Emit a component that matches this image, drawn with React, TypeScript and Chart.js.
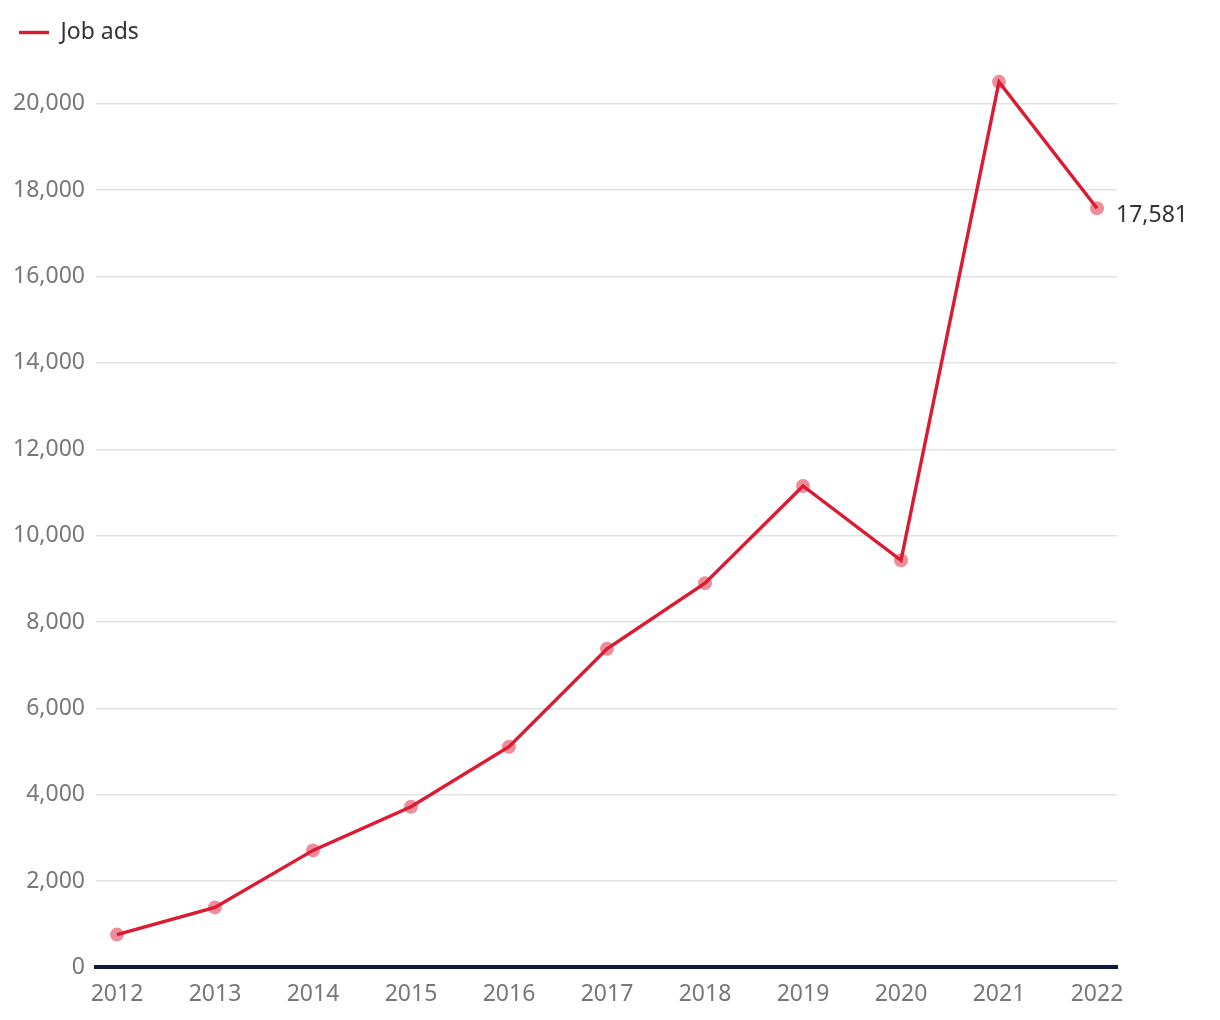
import React, { useEffect, useRef } from "react";
import { Chart, registerables } from "chart.js";

Chart.register(...registerables);

const years = [2012, 2013, 2014, 2015, 2016, 2017, 2018, 2019, 2020, 2021, 2022];
const jobAds = [760, 1390, 2710, 3720, 5110, 7380, 8900, 11150, 9430, 20510, 17581];
const yTicks = [0, 2000, 4000, 6000, 8000, 10000, 12000, 14000, 16000, 18000, 20000];
const seriesLabel = "Job ads";

const FONT = "'Noto Sans', sans-serif";

const lastLabelPlugin = {
  id: "lastLabel",
  afterDatasetsDraw(chart: any) {
    const meta = chart.getDatasetMeta(1);
    const pts = meta.data;
    if (!pts || !pts.length) return;
    const p = pts[pts.length - 1];
    const ctx = chart.ctx;
    ctx.save();
    ctx.font = `23px ${FONT}`;
    ctx.fillStyle = "#333333";
    ctx.textAlign = "left";
    ctx.textBaseline = "middle";
    const v = jobAds[jobAds.length - 1];
    ctx.fillText(v.toLocaleString("en-US"), p.x + 19, p.y + 7);
    ctx.restore();
  },
};

export default function App() {
  const ref = useRef<HTMLCanvasElement | null>(null);
  useEffect(() => {
    if (!ref.current) return;
    const pts = years.map((y, i) => ({ x: y, y: jobAds[i] }));
    const chart = new Chart(ref.current, {
      type: "line",
      data: {
        datasets: [
          {
            label: seriesLabel,
            data: pts,
            borderColor: "#dc1a32",
            backgroundColor: "#dc1a32",
            borderWidth: 3.4,
            pointRadius: 0,
            tension: 0,
            order: 0,
          },
          {
            label: "points",
            data: pts,
            showLine: false,
            pointRadius: 7,
            pointBorderWidth: 0,
            pointBackgroundColor: "#ef8d9b",
            borderColor: "#ef8d9b",
            order: 1,
          },
        ],
      },
      options: {
        animation: false,
        responsive: true,
        maintainAspectRatio: false,
        layout: { padding: { left: 0, right: 95, top: 2, bottom: 0 } },
        plugins: {
          tooltip: { enabled: false },
          legend: {
            position: "top",
            align: "start",
            labels: {
              filter: (item: any) => item.datasetIndex === 0,
              usePointStyle: true,
              pointStyle: "line",
              pointStyleWidth: 30,
              color: "#333333",
              font: { family: FONT, size: 23 },
              padding: 11,
            },
          },
        },
        scales: {
          x: {
            type: "linear",
            min: 2011.786,
            max: 2022.204,
            grid: { display: false, drawTicks: false },
            border: { display: true, color: "#0d1a38", width: 4 },
            ticks: {
              stepSize: 1,
              includeBounds: false,
              autoSkip: false,
              maxRotation: 0,
              color: "#777777",
              font: { family: FONT, size: 23 },
              padding: 13,
              callback: (v: any) => (years.includes(v) ? String(v) : ""),
            },
          },
          y: {
            min: 0,
            max: 21155,
            afterFit: (axis: any) => {
              axis.width = 88;
            },
            afterBuildTicks: (axis: any) => {
              axis.ticks = yTicks.map((v) => ({ value: v }));
            },
            grid: { color: "#e2e2e2", lineWidth: 1.5, drawTicks: false },
            border: { display: false },
            ticks: {
              color: "#777777",
              font: { family: FONT, size: 23 },
              padding: 11,
              callback: (v: any) => Number(v).toLocaleString("en-US"),
            },
          },
        },
      },
      plugins: [lastLabelPlugin],
    });
    return () => chart.destroy();
  }, []);
  return (
    <div style={{ width: 1204, height: 1013, position: "relative" }}>
      <canvas ref={ref} />
    </div>
  );
}
